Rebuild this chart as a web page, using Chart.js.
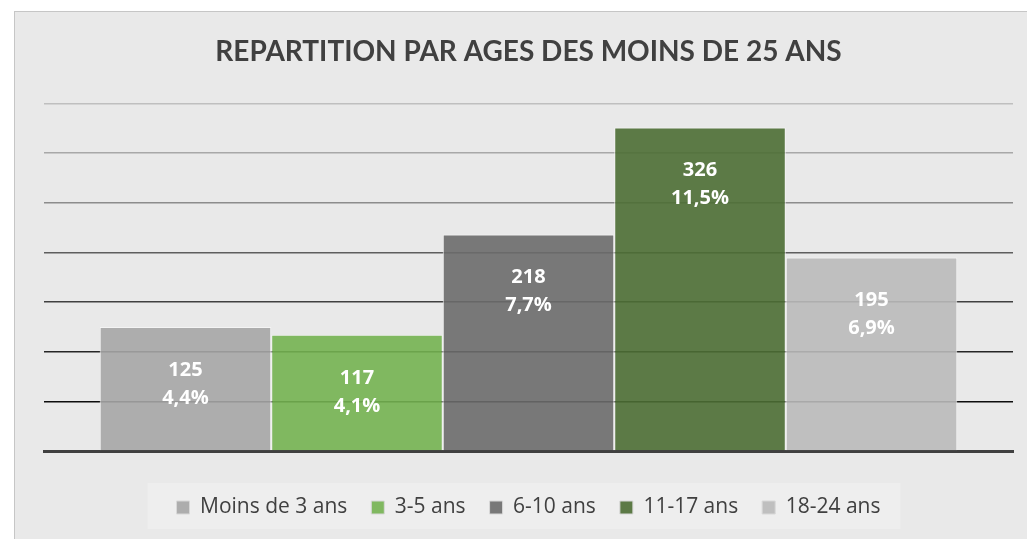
<!DOCTYPE html>
<html>
<head>
<meta charset="utf-8">
<script src="https://cdn.jsdelivr.net/npm/chart.js@4/dist/chart.umd.min.js"></script>
<style>
  html, body { margin: 0; padding: 0; background: #fff; }
  #frame {
    position: absolute; left: 14px; top: 11px; width: 1013px; height: 528px;
    border-left: 1px solid #c6c6c6; border-top: 1px solid #c6c6c6;
    background: #e9e9e9;
  }
  #wrap { position: absolute; left: 0; top: 0; width: 1012px; height: 527px; }
</style>
</head>
<body>
<div id="frame"><div id="wrap"><canvas id="ages"></canvas></div></div>
<script>
// Data
const ageGroups = ['Moins de 3 ans', '3-5 ans', '6-10 ans', '11-17 ans', '18-24 ans'];
const counts = [125, 117, 218, 326, 195];
const shares = [4.4, 4.1, 7.7, 11.5, 6.9];
const yTicks = [0, 50, 100, 150, 200, 250, 300, 350];

// bar fills are slightly see-through so the grid shows faintly over them
const barColors = [
  'rgba(166,166,166,0.9)',
  'rgba(116,179,81,0.9)',
  'rgba(107,107,107,0.9)',
  'rgba(76,110,52,0.9)',
  'rgba(186,186,186,0.9)'
];
const legendColors = ['#adadad', '#80b860', '#787878', '#5c7a46', '#bfbfbf'];

// grid gets lighter towards the top
const gridColors = {
  50: '#0d0d0d', 100: '#262626', 150: '#404040', 200: '#5e5e5e',
  250: '#8c8c8c', 300: '#a8a8a8', 350: '#bfbfbf'
};

const fmtPct = v => v.toFixed(1).replace('.', ',') + '%';

// Value + share labels inside bars
const barLabels = {
  id: 'barLabels',
  afterDatasetsDraw(chart) {
    const c = chart.ctx;
    c.save();
    c.fillStyle = '#ffffff';
    c.font = 'bold 20px "Open Sans"';
    c.textAlign = 'center';
    c.textBaseline = 'middle';
    chart.data.datasets.forEach((ds, i) => {
      const bar = chart.getDatasetMeta(i).data[0];
      c.fillText(String(counts[i]), bar.x, bar.y + 43);
      c.fillText(fmtPct(shares[i]), bar.x, bar.y + 71);
    });
    c.restore();
  }
};

// Lighter panel behind the legend
const legendPanel = {
  id: 'legendPanel',
  beforeDraw(chart) {
    const boxes = chart.legend && chart.legend.legendHitBoxes;
    if (!boxes || !boxes.length) return;
    const left = Math.min(...boxes.map(b => b.left)) - 29;
    const right = Math.max(...boxes.map(b => b.left + b.width)) + 20;
    const top = boxes[0].top - 14;
    const c = chart.ctx;
    c.save();
    c.fillStyle = '#eeeeee';
    c.fillRect(left, top, right - left, 46);
    c.restore();
  }
};

new Chart(document.getElementById('ages'), {
  type: 'bar',
  data: {
    labels: [''],
    datasets: ageGroups.map((name, i) => ({
      label: name,
      data: [counts[i]],
      backgroundColor: barColors[i],
      borderColor: 'rgba(245,245,245,0.9)',
      borderWidth: 1,
      categoryPercentage: 0.885,
      barPercentage: 1
    }))
  },
  options: {
    responsive: true,
    maintainAspectRatio: false,
    animation: false,
    layout: { padding: { left: 29, right: 14, top: 0, bottom: 11 } },
    plugins: {
      title: {
        display: true,
        text: 'REPARTITION PAR AGES DES MOINS DE 25 ANS',
        color: '#404040',
        font: { family: 'Lato', size: 28, weight: 'bold' },
        padding: { top: 23, bottom: 35 }
      },
      legend: {
        position: 'bottom',
        labels: {
          color: '#404040',
          font: { family: 'Open Sans', size: 21 },
          boxWidth: 13,
          boxHeight: 13,
          padding: 24,
          generateLabels: chart => ageGroups.map((name, i) => ({
            text: name,
            fillStyle: legendColors[i],
            strokeStyle: '#d8d8d8',
            lineWidth: 1,
            fontColor: '#404040',
            datasetIndex: i
          }))
        }
      },
      tooltip: { enabled: false }
    },
    scales: {
      x: {
        ticks: { display: false },
        grid: { display: false, drawTicks: false },
        border: { display: true, color: '#404040', width: 3 },
        afterFit: axis => { axis.height = 22; }
      },
      y: {
        min: yTicks[0],
        max: yTicks[yTicks.length - 1],
        afterBuildTicks: axis => { axis.ticks = yTicks.map(v => ({ value: v })); },
        ticks: { display: false },
        border: { display: false },
        grid: {
          drawTicks: false,
          lineWidth: 1.5,
          color: ctx => gridColors[ctx.tick.value] || 'rgba(0,0,0,0)'
        }
      }
    }
  },
  plugins: [legendPanel, barLabels]
});
</script>
</body>
</html>
